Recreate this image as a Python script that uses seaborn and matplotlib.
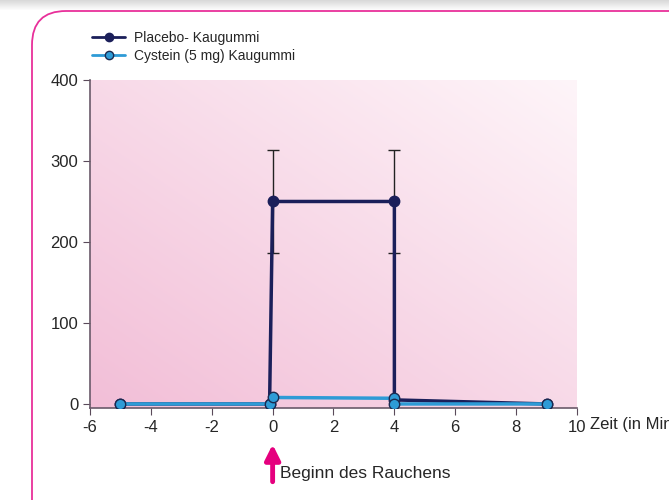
import numpy as np
import pandas as pd
import matplotlib
matplotlib.use("Agg")
import matplotlib.pyplot as plt
import seaborn as sns
from matplotlib.patches import FancyBboxPatch, Rectangle

# data
zeit_placebo = [-5, -0.1, 0, 4, 4, 9]
wert_placebo = [0, 0, 250, 250, 5, 0]
zeit_cystein = [-5, -0.1, 0, 4, 4, 9]
wert_cystein = [0, 0, 8, 7, 0, 0]
fehler_zeit = [0, 4]
fehler_wert = [250, 250]
fehler = [63, 63]
xticks = [-6, -4, -2, 0, 2, 4, 6, 8, 10]
yticks = [0, 100, 200, 300, 400]

df = pd.concat([
    pd.DataFrame({"Zeit": zeit_placebo, "Wert": wert_placebo, "Gruppe": "Placebo- Kaugummi"}),
    pd.DataFrame({"Zeit": zeit_cystein, "Wert": wert_cystein, "Gruppe": "Cystein (5 mg) Kaugummi"}),
])

sns.set_style("ticks")
plt.rcParams["font.family"] = ["Liberation Sans", "DejaVu Sans"]
plt.rcParams["axes.unicode_minus"] = False

fig = plt.figure(figsize=(6.69, 5), dpi=100)

# rounded magenta frame and top shadow
bg = fig.add_axes([0, 0, 1, 1])
bg.set_xlim(0, 669)
bg.set_ylim(500, 0)
bg.axis("off")
for i in range(10):
    bg.add_patch(Rectangle((0, i), 669, 1, color=(0.85 + i * 0.015,) * 3, lw=0))
bg.add_patch(FancyBboxPatch((32, 11), 700, 560, boxstyle="round,pad=0,rounding_size=34",
                            fc="white", ec="#E8309A", lw=1.3))

ax = fig.add_axes([90 / 669, 92 / 500, 487 / 669, 328 / 500])
ax.patch.set_alpha(0)

# diagonal pink gradient
gx, gy = np.meshgrid(np.linspace(0, 1, 200), np.linspace(0, 1, 200))
t = np.clip((gx + (1 - gy)) / 2, 0, 1)  # 0 bottom-left -> 1 top-right
c0 = np.array([242, 190, 215]) / 255
c1 = np.array([254, 245, 249]) / 255
img = c0[None, None, :] * (1 - t[..., None]) + c1[None, None, :] * t[..., None]
ax.imshow(img, extent=[-6, 10, -5, 400], origin="upper", aspect="auto", zorder=0)

palette = {"Placebo- Kaugummi": "#1B1F5A", "Cystein (5 mg) Kaugummi": "#2E9BD6"}
sns.lineplot(data=df[df.Gruppe == "Placebo- Kaugummi"], x="Zeit", y="Wert", hue="Gruppe",
             palette=palette, sort=False, estimator=None, lw=2.5, marker="o", ms=7.5,
             mec="#1B1F5A", mew=1, ax=ax, zorder=3)
sns.lineplot(data=df[df.Gruppe == "Cystein (5 mg) Kaugummi"], x="Zeit", y="Wert", hue="Gruppe",
             palette=palette, sort=False, estimator=None, lw=2.5, marker="o", ms=7.5,
             mec="#1B2A50", mew=1, ax=ax, zorder=4)
ax.errorbar(fehler_zeit, fehler_wert, yerr=fehler, fmt="none", ecolor="#222222",
            elinewidth=1, capsize=4.5, capthick=1, zorder=2)

ax.set_xlim(-6, 10)
ax.set_ylim(-5, 400)
ax.set_xticks(xticks)
ax.set_yticks(yticks)
ax.set_xlabel("")
ax.set_ylabel("")
ax.tick_params(labelsize=12, length=5, color="#5a4a5a")
for s in ["top", "right"]:
    ax.spines[s].set_visible(False)
for s in ["left", "bottom"]:
    ax.spines[s].set_color("#6a5a6a")
    ax.spines[s].set_linewidth(1.2)

h, l = ax.get_legend_handles_labels()
for hh in h:
    hh.set_linewidth(2)
    hh.set_markersize(6)
ax.legend(h[:2], l[:2], loc="upper left", bbox_to_anchor=(-0.01, 1.17), frameon=False,
          fontsize=10, handlelength=2.4, handletextpad=0.6, labelspacing=0.3, borderpad=0)

fig.text(590 / 669, 1 - 425 / 500, "Zeit (in Min", fontsize=12, va="center", ha="left")

# arrow for start of smoking
ax.annotate("", xy=(0, -50), xytext=(0, -96), xycoords="data",
            arrowprops=dict(arrowstyle="-|>,head_length=0.9,head_width=0.45",
                            color="#E5007E", lw=3.5, shrinkA=0, shrinkB=0),
            annotation_clip=False)
ax.text(0.25, -86, "Beginn des Rauchens", fontsize=12.5, va="center", ha="left",
        clip_on=False)

fig.savefig("out.png", dpi=100)
